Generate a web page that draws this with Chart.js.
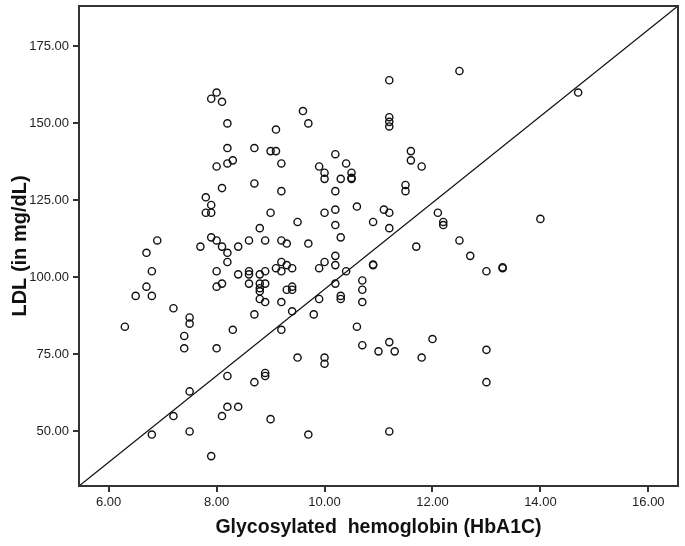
<!DOCTYPE html>
<html>
<head>
<meta charset="utf-8">
<script src="https://cdn.jsdelivr.net/npm/chart.js@4/dist/chart.umd.min.js"></script>
<style>
html,body{margin:0;padding:0;background:#fff;}
#wrap{width:685px;height:546px;}
</style>
</head>
<body>
<div id="wrap"><canvas id="c" width="685" height="546"></canvas></div>
<script>
// HbA1C values (x) and LDL values (y)
const hba1c = [6.3,6.5,6.7,6.7,6.8,6.8,6.9,6.8,7.2,7.2,7.4,7.4,7.5,7.5,7.5,7.5,7.7,7.8,7.8,7.9,7.9,7.9,7.9,7.9,
  8.0,8.0,8.0,8.0,8.0,8.0,8.1,8.1,8.1,8.1,8.1,8.2,8.2,8.2,8.2,8.2,8.2,8.2,8.3,8.3,8.4,8.4,8.4,
  8.6,8.6,8.6,8.6,8.7,8.7,8.7,8.7,8.8,8.8,8.8,8.8,8.8,8.8,8.9,8.9,8.9,8.9,8.9,8.9,
  9.0,9.0,9.0,9.1,9.1,9.1,9.2,9.2,9.2,9.2,9.2,9.2,9.2,9.3,9.3,9.3,9.4,9.4,9.4,9.4,9.5,9.5,9.6,9.7,9.7,9.7,9.8,9.9,9.9,9.9,
  10.0,10.0,10.0,10.0,10.0,10.0,10.2,10.2,10.2,10.2,10.2,10.2,10.2,10.3,10.3,10.3,10.3,10.4,10.4,10.5,10.5,10.5,10.6,10.6,
  10.7,10.7,10.7,10.7,10.9,10.9,10.9,11.0,11.1,11.2,11.2,11.2,11.2,11.2,11.2,11.2,11.2,11.3,11.5,11.5,11.6,11.6,11.7,11.8,11.8,
  12.0,12.1,12.2,12.2,12.5,12.5,12.7,13.0,13.0,13.0,13.3,13.3,14.0,14.7];
const ldl = [84,94,108,97,102,94,112,49,90,55,81,77,87,85,63,50,110,126,121,121,123.5,158,113,42,
  160,136,112,102,97,77,157,129,110,98,55,150,142,137,108,105,68,58,138,83,110,101,58,
  112,102,101,98,142,130.5,88,66,116,101,98,96.5,95.5,93,112,102,98,92,69,68,
  141,121,54,148,141,103,137,128,112,105,102,92,83,111,104,96,103,97,96,89,118,74,154,150,111,49,88,136,103,93,
  134,132,121,105,74,72,140,128,122,117,107,104,98,132,113,94,93,137,102,134,132,132.3,123,84,
  99,96,92,78,118,104,104.2,76,122,164,152,150.5,149,121,116,79,50,76,130,128,141,138,110,136,74,
  80,121,117,118,167,112,107,102,76.5,66,103,103.3,119,160];
const xTicks = [6, 8, 10, 12, 14, 16];
const yTicks = [50, 75, 100, 125, 150, 175];
const xRange = [5.45, 16.55];
const yRange = [32.3, 188.1];
// diagonal reference line endpoints (corner to corner)
const refX = [xRange[0], xRange[1]];
const refY = [yRange[0], yRange[1]];

const points = hba1c.map((v, i) => ({x: v, y: ldl[i]}));
const refLine = refX.map((v, i) => ({x: v, y: refY[i]}));

const frame = {
  id: 'frame',
  afterDatasetsDraw(chart) {
    const a = chart.chartArea, ctx = chart.ctx;
    ctx.save();
    ctx.strokeStyle = '#333';
    ctx.lineWidth = 2;
    ctx.strokeRect(a.left, a.top, a.right - a.left, a.bottom - a.top);
    ctx.restore();
  }
};

new Chart(document.getElementById('c'), {
  type: 'scatter',
  data: {
    datasets: [
      {
        type: 'line',
        data: refLine,
        borderColor: '#111',
        borderWidth: 1.3,
        pointRadius: 0,
        fill: false,
        showLine: true,
        order: 2
      },
      {
        data: points,
        pointStyle: 'circle',
        pointRadius: 3.6,
        pointBorderWidth: 1.4,
        pointBorderColor: '#111',
        pointBackgroundColor: 'rgba(0,0,0,0)',
        order: 1
      }
    ]
  },
  plugins: [frame],
  options: {
    responsive: false,
    animation: false,
    events: [],
    layout: {padding: {top: 0, right: 0, left: 0, bottom: 0}},
    plugins: {legend: {display: false}, tooltip: {enabled: false}},
    scales: {
      x: {
        type: 'linear',
        min: xRange[0], max: xRange[1],
        afterBuildTicks: s => { s.ticks = xTicks.map(v => ({value: v})); },
        afterFit: s => { s.height = 60; s.paddingLeft = 0; s.paddingRight = 7; },
        ticks: {
          callback: v => Number(v).toFixed(2),
          font: {family: 'Liberation Sans, Arial, sans-serif', size: 13},
          color: '#222',
          padding: 3,
          maxRotation: 0
        },
        grid: {drawOnChartArea: false, drawTicks: true, tickLength: 6, color: '#333', lineWidth: 2},
        border: {display: false},
        title: {
          display: true,
          text: 'Glycosylated  hemoglobin (HbA1C)',
          font: {family: 'Liberation Sans, Arial, sans-serif', size: 19.5, weight: 'bold'},
          color: '#111',
          padding: {top: 0, bottom: 7}
        }
      },
      y: {
        type: 'linear',
        min: yRange[0], max: yRange[1],
        afterBuildTicks: s => { s.ticks = yTicks.map(v => ({value: v})); },
        afterFit: s => { s.width = 79; s.paddingTop = 6; s.paddingBottom = 0; },
        ticks: {
          callback: v => Number(v).toFixed(2),
          font: {family: 'Liberation Sans, Arial, sans-serif', size: 13},
          color: '#222',
          padding: 4
        },
        grid: {drawOnChartArea: false, drawTicks: true, tickLength: 6, color: '#333', lineWidth: 2},
        border: {display: false},
        title: {
          display: true,
          text: 'LDL (in mg/dL)',
          font: {family: 'Liberation Sans, Arial, sans-serif', size: 20, weight: 'bold'},
          color: '#111',
          padding: {top: 8, bottom: 0}
        }
      }
    }
  }
});
</script>
</body>
</html>
